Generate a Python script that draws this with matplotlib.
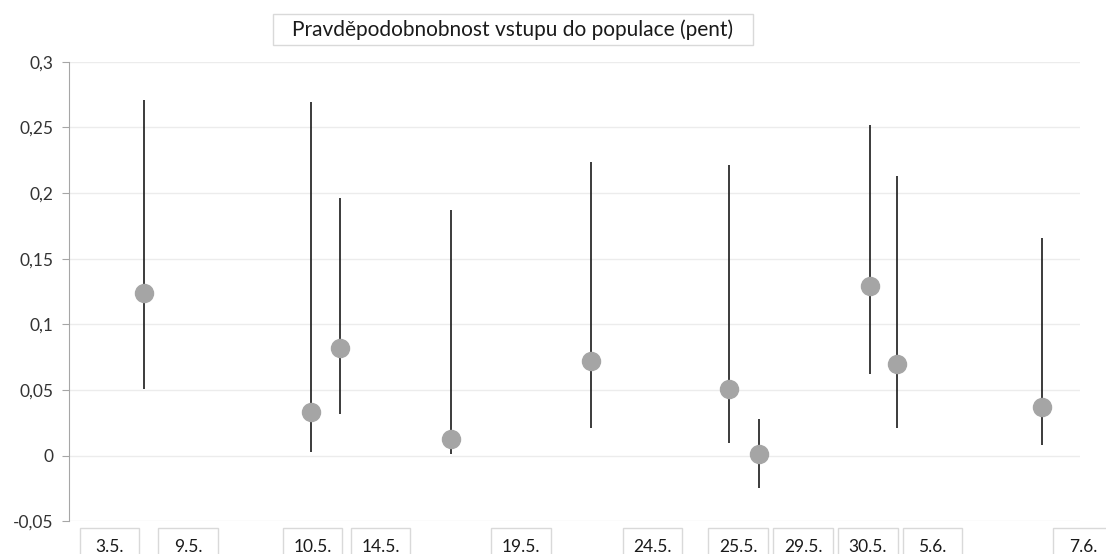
import matplotlib.pyplot as plt
from matplotlib.patches import Rectangle

plt.rcParams['font.family'] = ['Lato', 'DejaVu Sans']

# point positions (0-100 along the axis) and estimates with their intervals
x_pos = [7.4, 23.9, 26.8, 37.8, 51.6, 65.3, 68.2, 79.2, 81.9, 96.2]
mean = [0.124, 0.033, 0.082, 0.013, 0.072, 0.051, 0.001, 0.129, 0.070, 0.037]
low = [0.051, 0.003, 0.032, 0.001, 0.021, 0.010, -0.025, 0.062, 0.021, 0.008]
high = [0.271, 0.269, 0.196, 0.187, 0.224, 0.221, 0.028, 0.252, 0.213, 0.166]

# date labels in boxes under the plot
date_labels = ['3.5.', '9.5.', '10.5.', '14.5.', '19.5.', '24.5.',
               '25.5.', '29.5.', '30.5.', '5.6.', '7.6.']
date_pos = [4.0, 11.8, 24.1, 30.8, 44.7, 57.7, 66.2, 72.6, 79.0, 85.4, 100.3]

y_ticks = [-0.05, 0, 0.05, 0.1, 0.15, 0.2, 0.25, 0.3]
y_labels = ['-0,05', '0', '0,05', '0,1', '0,15', '0,2', '0,25', '0,3']

title = 'Pravděpodobnobnost vstupu do populace (pent)'

fig = plt.figure(figsize=(11.06, 5.54), dpi=100)
ax = fig.add_axes([0.0624, 0.059, 0.9141, 0.8296])

ax.vlines(x_pos, low, high, color='#1a1a1a', lw=1.2, zorder=2)
ax.plot(x_pos, mean, 'o', color='#a5a5a5', markersize=13, zorder=3)

ax.set_xlim(0, 100)
ax.set_ylim(-0.05, 0.3)
ax.set_yticks(y_ticks)
ax.set_yticklabels(y_labels)
ax.set_xticks([])
ax.grid(axis='y', color='#ececec', lw=1)
ax.set_axisbelow(True)

for s in ['top', 'right', 'bottom']:
    ax.spines[s].set_visible(False)
ax.spines['left'].set_color('#a6a6a6')
ax.tick_params(axis='y', colors='#a6a6a6', length=5, pad=6,
               labelcolor='#333333', labelsize=12.5)

# boxed date labels
tr = ax.get_xaxis_transform()
for d, p in zip(date_labels, date_pos):
    ax.add_patch(Rectangle((p - 2.95, -0.13), 5.9, 0.115, transform=tr,
                           fill=True, fc='white', ec='#d9d9d9', lw=1,
                           clip_on=False))
    ax.text(p, -0.066, d, transform=tr, ha='center', va='baseline',
            fontsize=12.5, color='#1a1a1a', clip_on=False)

# boxed title
fig.patches.append(Rectangle((273 / 1106, 1 - 45 / 554), 480 / 1106, 31 / 554,
                             transform=fig.transFigure, fc='white',
                             ec='#d9d9d9', lw=1))
fig.text(513 / 1106, 1 - 30 / 554, title, ha='center', va='center',
         fontsize=15, color='#1a1a1a')

fig.savefig('out.png', dpi=100)
